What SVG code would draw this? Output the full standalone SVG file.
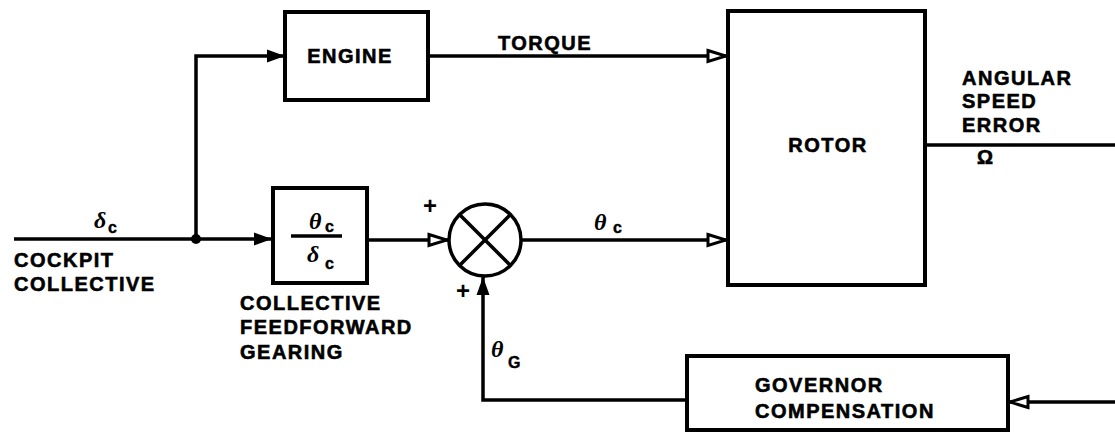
<svg xmlns="http://www.w3.org/2000/svg" width="1115" height="435" viewBox="0 0 1115 435">
<style>
.box{fill:#fff;stroke:#000;stroke-width:4}
.ln{fill:none;stroke:#000;stroke-width:3.5}
.t{font-family:"Liberation Sans",Arial,sans-serif;font-weight:bold;font-size:20px;fill:#000;stroke:#000;stroke-width:0.6;letter-spacing:1.5px}
.sym{font-family:"Liberation Serif","Times New Roman",serif;font-style:italic;font-weight:bold;font-size:24px;fill:#000}
.sub{font-family:"Liberation Sans",Arial,sans-serif;font-weight:bold;font-size:16px;fill:#000;stroke:#000;stroke-width:0.4}
.pl{font-family:"Liberation Sans",Arial,sans-serif;font-weight:bold;font-size:24px;fill:#000}
</style>
<defs>
<marker id="fa" markerUnits="userSpaceOnUse" markerWidth="22" markerHeight="16" refX="19" refY="8" orient="auto">
<path d="M1,1.5 L19,8 L1,14.5 z" fill="#000"/>
</marker>
<marker id="oa" markerUnits="userSpaceOnUse" markerWidth="24" markerHeight="16" refX="21" refY="8" orient="auto">
<path d="M2,2.5 L20,8 L2,13.5 z" fill="#fff" stroke="#000" stroke-width="3"/>
</marker>
</defs>
<g id="connectors">
<line class="ln" x1="14" y1="239" x2="272" y2="239" marker-end="url(#fa)"/>
<circle cx="196" cy="239" r="5" fill="#000"/>
<polyline class="ln" points="196,239 196,56 285,56" marker-end="url(#fa)"/>
<line class="ln" x1="428" y1="56" x2="727" y2="56" marker-end="url(#oa)"/>
<line class="ln" x1="367" y1="240" x2="448" y2="240" marker-end="url(#oa)"/>
<line class="ln" x1="522" y1="240" x2="727" y2="240" marker-end="url(#oa)"/>
<line class="ln" x1="925" y1="145" x2="1115" y2="145"/>
<line class="ln" x1="1115" y1="402" x2="1009" y2="402" marker-end="url(#oa)"/>
<polyline class="ln" points="687,400 483,400 483,277" marker-end="url(#fa)"/>
</g>
<g id="engine">
<rect class="box" x="285" y="12" width="143" height="88"/>
<text class="t" x="350" y="63" text-anchor="middle">ENGINE</text>
</g>
<g id="rotor">
<rect class="box" x="728" y="11" width="197" height="274"/>
<text class="t" x="828" y="152" text-anchor="middle">ROTOR</text>
</g>
<g id="feedforward">
<rect class="box" x="273" y="188" width="94" height="95"/>
<line x1="291" y1="236" x2="342" y2="236" stroke="#000" stroke-width="3.5"/>
<text class="sym" x="309" y="229">θ</text><text class="sub" x="325" y="232">c</text>
<text class="sym" x="307" y="262">δ</text><text class="sub" x="325" y="269">c</text>
</g>
<g id="summing">
<circle cx="485" cy="240" r="36" fill="#fff" stroke="#000" stroke-width="3.5"/>
<line x1="460" y1="215" x2="510" y2="265" stroke="#000" stroke-width="3.5"/>
<line x1="510" y1="215" x2="460" y2="265" stroke="#000" stroke-width="3.5"/>
</g>
<g id="governor">
<rect class="box" x="687" y="356" width="321" height="74"/>
<text class="t" x="755" y="392">GOVERNOR</text>
<text class="t" x="755" y="418">COMPENSATION</text>
</g>
<g id="labels">
<text class="sym" x="94" y="228">δ</text><text class="sub" x="108" y="233">c</text>
<text class="t" x="14" y="267">COCKPIT</text>
<text class="t" x="14" y="291">COLLECTIVE</text>
<text class="t" x="240" y="310">COLLECTIVE</text>
<text class="t" x="240" y="334">FEEDFORWARD</text>
<text class="t" x="240" y="359">GEARING</text>
<text class="t" x="545" y="50" text-anchor="middle">TORQUE</text>
<text class="sym" x="594" y="230">θ</text><text class="sub" x="613" y="233">c</text>
<text class="sym" x="491" y="357">θ</text><text class="sub" x="508" y="368">G</text>
<text class="pl" x="430" y="214" text-anchor="middle">+</text>
<text class="pl" x="463" y="299" text-anchor="middle">+</text>
<text class="t" x="962" y="85">ANGULAR</text>
<text class="t" x="962" y="108">SPEED</text>
<text class="t" x="962" y="132">ERROR</text>
<text class="t" x="977" y="164">Ω</text>
</g>
</svg>
